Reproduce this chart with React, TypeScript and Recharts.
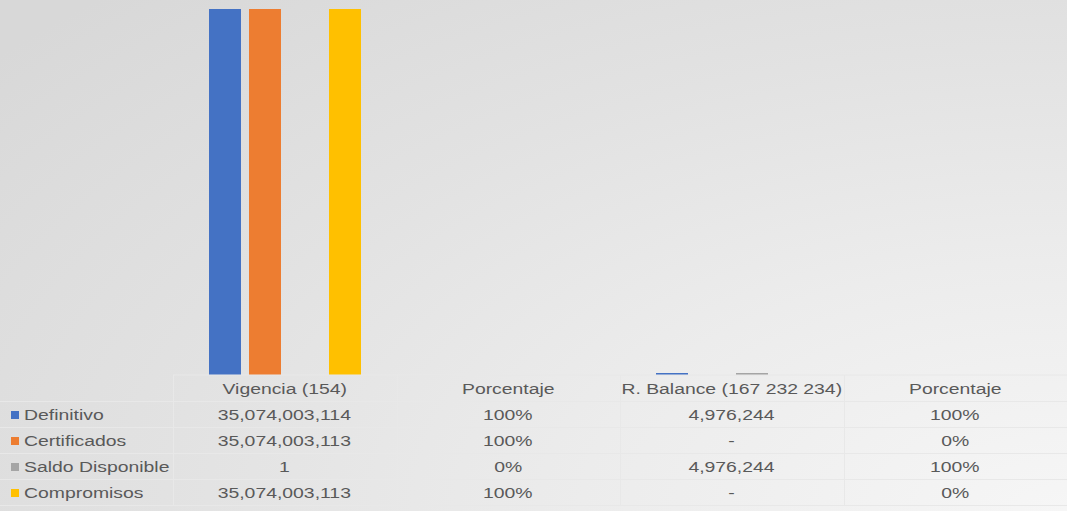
import { BarChart, Bar, XAxis, YAxis } from "recharts";

const categories = ["Vigencia (154)", "Porcentaje", "R. Balance (167 232 234)", "Porcentaje"];
const definitivo = [35074003114, 1, 4976244, 1];
const certificados = [35074003113, 1, 0, 0];
const saldoDisponible = [1, 0, 4976244, 1];
const compromisos = [35074003113, 1, 0, 0];
// which columns are shown as percentages in the data table
const percentColumns = [false, true, false, true];

const seriesKeys = ["definitivo", "certificados", "saldo", "compromisos"];
const seriesNames = ["Definitivo", "Certificados", "Saldo Disponible", "Compromisos"];
const seriesColors = ["#4472C4", "#ED7D31", "#A5A5A5", "#FFC000"];
const seriesValues = [definitivo, certificados, saldoDisponible, compromisos];

const data = categories.map((name, i) => ({
  name,
  definitivo: definitivo[i],
  certificados: certificados[i],
  saldo: saldoDisponible[i],
  compromisos: compromisos[i],
}));

const W = 1067;
const H = 511;
const LEFT = 173;
const PLOT_BOTTOM = 375;
const ROW_H = 26;
const COL_W = (W - LEFT) / categories.length;
const TEXT = "#595959";
const LINE = "#e8e8e8";
const FONT = "'Liberation Sans', Arial, sans-serif";
const STRETCH = 1.25;

function formatCell(value: number, col: number) {
  if (percentColumns[col]) return `${Math.round(value * 100)}%`;
  if (value === 0) return "-";
  return value.toLocaleString("en-US");
}

// tiny amounts still get a visible sliver, like the source
const sliver = (value: number) => (value > 1000 ? 2 : 0);

const HeaderTick = (props: any) => {
  const { x, payload } = props;
  return (
    <text
      transform={`translate(${x},${PLOT_BOTTOM + 19}) scale(${STRETCH},1)`}
      textAnchor="middle"
      fill={TEXT}
      fontSize={15.5}
      fontFamily={FONT}
    >
      {payload.value}
    </text>
  );
};

const Wide = ({ children }: { children: React.ReactNode }) => (
  <span
    style={{
      display: "inline-block",
      transform: `scaleX(${STRETCH})`,
      whiteSpace: "nowrap",
    }}
  >
    {children}
  </span>
);

export default function App() {
  return (
    <div
      style={{
        position: "absolute",
        left: 0,
        top: 0,
        width: W,
        height: H,
        overflow: "hidden",
        fontFamily: FONT,
        background:
          "radial-gradient(ellipse 130% 140% at 100% 100%, #f6f6f6 0%, #ececec 35%, #e2e2e2 65%, #d8d8d8 100%)",
      }}
    >
      <BarChart
        width={W}
        height={PLOT_BOTTOM + ROW_H}
        data={data}
        margin={{ top: 9, right: 0, left: LEFT, bottom: 0 }}
        barSize={32}
        barGap={8}
        style={{ overflow: "visible" }}
      >
        <XAxis
          dataKey="name"
          height={ROW_H}
          axisLine={{ stroke: LINE }}
          tickLine={false}
          tick={<HeaderTick />}
          interval={0}
        />
        <YAxis hide domain={[0, 35074003114]} />
        {seriesKeys.map((key, i) => (
          <Bar
            key={key}
            dataKey={key}
            name={seriesNames[i]}
            fill={seriesColors[i]}
            minPointSize={sliver}
            isAnimationActive={false}
          />
        ))}
      </BarChart>

      {/* vertical grid of the data table */}
      {categories.map((_, c) => (
        <div
          key={`v${c}`}
          style={{
            position: "absolute",
            left: LEFT + c * COL_W,
            top: PLOT_BOTTOM,
            width: 1,
            height: ROW_H * 5,
            background: LINE,
          }}
        />
      ))}

      {seriesNames.map((name, r) => {
        const top = PLOT_BOTTOM + ROW_H * (r + 1);
        return (
          <div key={name}>
            <div
              style={{
                position: "absolute",
                left: 0,
                top,
                width: W,
                height: 1,
                background: LINE,
              }}
            />
            <div
              style={{
                position: "absolute",
                left: 11,
                top: top + 10,
                width: 8,
                height: 8,
                background: seriesColors[r],
              }}
            />
            <div
              style={{
                position: "absolute",
                left: 24,
                top: top + 1,
                height: ROW_H,
                lineHeight: `${ROW_H}px`,
                fontSize: 15.5,
                color: TEXT,
              }}
            >
              <span
                style={{
                  display: "inline-block",
                  transform: `scaleX(${STRETCH})`,
                  transformOrigin: "left center",
                  whiteSpace: "nowrap",
                }}
              >
                {name}
              </span>
            </div>
            {seriesValues[r].map((v, c) => (
              <div
                key={c}
                style={{
                  position: "absolute",
                  left: LEFT + c * COL_W,
                  top: top + 1,
                  width: COL_W,
                  height: ROW_H,
                  lineHeight: `${ROW_H}px`,
                  textAlign: "center",
                  fontSize: 15.5,
                  color: TEXT,
                }}
              >
                <Wide>{formatCell(v, c)}</Wide>
              </div>
            ))}
          </div>
        );
      })}
      <div
        style={{
          position: "absolute",
          left: 0,
          top: PLOT_BOTTOM + ROW_H * 5,
          width: W,
          height: 1,
          background: LINE,
        }}
      />
    </div>
  );
}
